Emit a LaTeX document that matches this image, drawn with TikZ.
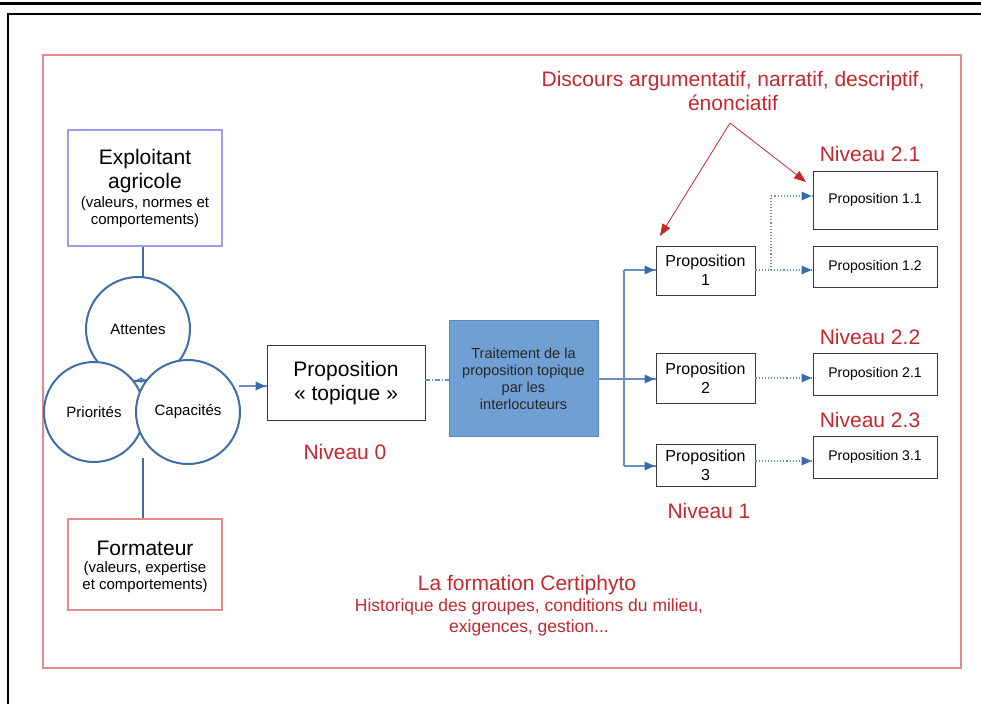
\documentclass[tikz,border=0pt]{standalone}
\usepackage{fontspec}
\setmainfont{Liberation Sans}
\usetikzlibrary{arrows.meta}
\definecolor{redtxt}{HTML}{C4282C}
\definecolor{redframe}{HTML}{E48C8C}
\definecolor{circblue}{HTML}{3F6DA6}
\definecolor{lineblue}{HTML}{6A8FBF}
\definecolor{arrblue}{HTML}{3A6AAE}
\definecolor{boxfill}{HTML}{709FD3}
\definecolor{boxedge}{HTML}{5A86BC}
\definecolor{lav}{HTML}{9E9CEB}
\definecolor{greyedge}{HTML}{3A3A3A}
\tikzset{
  big/.style={font=\fontsize{21}{24}\selectfont},
  sml/.style={font=\fontsize{15}{17}\selectfont},
  redlab/.style={text=redtxt, inner sep=0pt},
  propbox/.style={draw=greyedge, line width=0.9pt, minimum width=99pt, align=center, inner sep=0pt, font=\fontsize{16}{19}\selectfont},
  subbox/.style={draw=greyedge, line width=0.9pt, minimum width=124pt, inner sep=0pt, font=\fontsize{14}{16}\selectfont},
  circ/.style={circle, draw=circblue, fill=white, line width=2pt, minimum size=104pt, inner sep=0pt, font=\fontsize{15}{17}\selectfont},
  bline/.style={draw=lineblue, line width=1.2pt},
  dline/.style={draw=lineblue, line width=1.1pt, dotted},
  redarr/.style={draw=redtxt, line width=0.8pt, -{Triangle[length=12pt,width=9pt]}},
}
\begin{document}
\begin{tikzpicture}[x=1pt,y=-1pt]
\useasboundingbox (0,0) rectangle (981,704);
% outer black frame
\draw[line width=3pt] (0,3) -- (981,3);
\draw[line width=2pt] (981,14) -- (8,14) -- (8,704);
% red frame
\draw[draw=redframe, line width=1.3pt] (43,55) rectangle (961,668);

% Exploitant
\node[draw=lav, line width=1.3pt, minimum width=154pt, minimum height=116pt] (expl) at (145,188) {};
\node[big, align=center, inner sep=0pt] (explt) at (145,171) {Exploitant\\agricole};
\node[sml, align=center, inner sep=0pt] (explp) at (145,212) {(valeurs, normes et\\comportements)};

% Formateur
\node[draw=redframe, line width=1.3pt, minimum width=154pt, minimum height=91pt] (form) at (145,564.5) {};
\node[big, inner sep=0pt] (formt) at (145,548) {Formateur};
\node[sml, align=center, inner sep=0pt] (formp) at (145,577) {(valeurs, expertise\\et comportements)};

% connectors to circles
\coordinate (cbot) at (143,458);
\draw[draw=circblue, line width=1.2pt] (expl.south -| 143,0) -- (143,290);
\draw[draw=circblue, line width=1.2pt] (cbot) -- (form.north -| 143,0);

% circles
\node[circ] (att) at (138,329) {Attentes};
\node[circ, minimum size=100pt] (prio) at (94,412) {Priorités};
\node[circ] (cap) at (188,412) {Capacités};
\coordinate (cmid) at (141,378);
\draw[draw=circblue, line width=1pt] (cmid) -- ++(-5,3) (cmid) -- ++(5,3) (cmid) -- ++(0,5);

% Proposition topique
\node[draw=greyedge, line width=0.9pt, minimum width=158pt, minimum height=75pt] (top) at (346,382.5) {};
\node[big, align=center, inner sep=0pt] (topt) at (346,383) {Proposition\\« topique »};
\node[big, redlab] (niv0) at (345,452) {Niveau 0};
\coordinate (capout) at (239,386);
\draw[bline] (capout) -- (top.west |- capout);
\fill[arrblue] (top.west |- capout) ++(-1,0) -- ++(-10,-4.5) -- ++(0,9) -- cycle;

% Traitement
\node[draw=boxedge, fill=boxfill, line width=1pt, minimum width=149pt, minimum height=116pt] (trait) at (523.5,378) {};
\node[font=\fontsize{14.5}{17}\selectfont, align=center, text=black!85, inner sep=0pt] (traitt) at (523.5,379) {Traitement de la\\proposition topique\\par les\\interlocuteurs};
\draw[draw=lineblue, line width=1.2pt, dash pattern=on 5pt off 2pt on 1pt off 2pt] (top.east |- 0,380) -- (trait.west |- 0,380);

% Level 1 boxes
\node[propbox, minimum height=49pt] (p1) at (705.5,270.5) {Proposition\\1};
\node[propbox, minimum height=50pt] (p2) at (705.5,378) {Proposition\\2};
\node[propbox, minimum height=42pt] (p3) at (705.5,465) {Proposition\\3};
\node[big, redlab] (niv1) at (709,511) {Niveau 1};

\coordinate (fork) at (624,379);
\draw[bline] (trait.east |- fork) -- (fork);
\draw[bline] (624,270) -- (624,466);
\draw[bline] (624,270) -- (p1.west |- 0,270);
\draw[bline] (fork) -- (p2.west |- fork);
\draw[bline] (624,466) -- (p3.west |- 0,466);
\fill[arrblue] (p1.west |- 0,270) ++(-1,0) -- ++(-10,-4.5) -- ++(0,9) -- cycle;
\fill[arrblue] (p2.west |- fork) ++(-1,0) -- ++(-10,-4.5) -- ++(0,9) -- cycle;
\fill[arrblue] (p3.west |- 0,466) ++(-1,0) -- ++(-10,-4.5) -- ++(0,9) -- cycle;

% Level 2 boxes
\node[subbox, minimum height=58pt] (p11) at (875,200) {Proposition 1.1};
\node[subbox, minimum height=41pt] (p12) at (875,266.5) {Proposition 1.2};
\node[subbox, minimum height=42pt] (p21) at (875,374) {Proposition 2.1};
\node[subbox, minimum height=42pt] (p31) at (875,457) {Proposition 3.1};
\node[big, redlab] (n21) at (870,154) {Niveau 2.1};
\node[big, redlab] (n22) at (870,337) {Niveau 2.2};
\node[big, redlab] (n23) at (870,420) {Niveau 2.3};

\coordinate (s1) at (771,270);
\draw[dline] (p1.east |- s1) -- (s1) -- (771,196) -- (p11.west |- 0,196);
\draw[dline] (s1) -- (p12.west |- s1);
\draw[dline] (p2.east |- 0,378) -- (p21.west |- 0,378);
\draw[dline] (p3.east |- 0,461) -- (p31.west |- 0,461);
\fill[arrblue] (p11.west |- 0,196) ++(-1,0) -- ++(-10,-4.5) -- ++(0,9) -- cycle;
\fill[arrblue] (p12.west |- s1) ++(-1,0) -- ++(-10,-4.5) -- ++(0,9) -- cycle;
\fill[arrblue] (p21.west |- 0,378) ++(-1,0) -- ++(-10,-4.5) -- ++(0,9) -- cycle;
\fill[arrblue] (p31.west |- 0,461) ++(-1,0) -- ++(-10,-4.5) -- ++(0,9) -- cycle;

% Discours
\node[big, redlab, align=center] (disc) at (733,91) {Discours argumentatif, narratif, descriptif,\\énonciatif};
\coordinate (dv) at (730,123);
\draw[redarr] (dv) -- (660,236);
\draw[redarr] (dv) -- (806,182);

% Certiphyto
\node[big, redlab] (cert) at (527,585) {La formation Certiphyto};
\node[font=\fontsize{17.5}{21}\selectfont, redlab, align=center] (hist) at (529,617) {Historique des groupes, conditions du milieu,\\exigences, gestion...};
\end{tikzpicture}
\end{document}
